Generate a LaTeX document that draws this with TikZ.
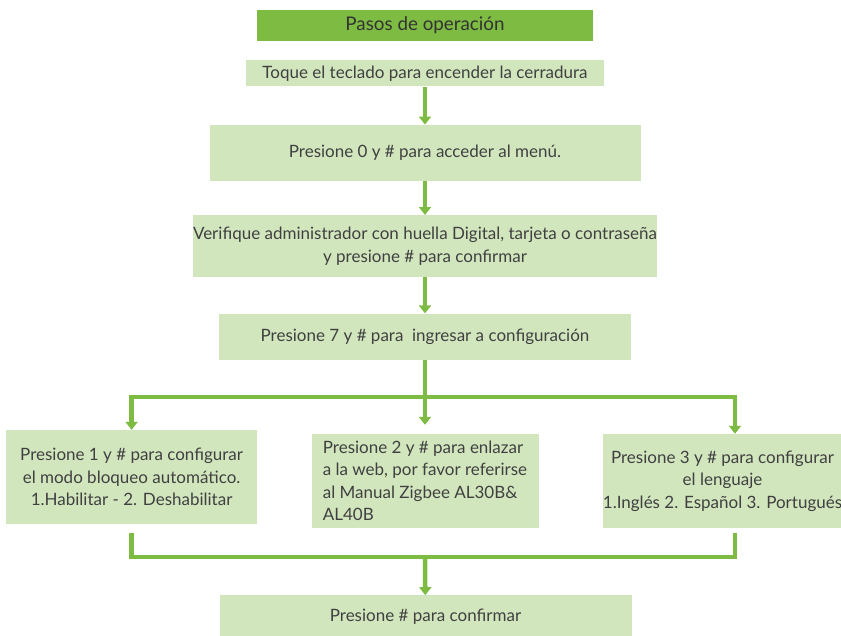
\documentclass[tikz,border=0pt]{standalone}
\usepackage{fontspec}
\setmainfont{Lato}
\usetikzlibrary{positioning,arrows.meta}
\definecolor{leafgreen}{HTML}{7DBB42}
\definecolor{palegreen}{HTML}{D2E6BE}
\definecolor{inkgray}{HTML}{404040}

\begin{document}
\begin{tikzpicture}[
        node distance=19pt,
        box/.style={rectangle, fill=palegreen, text=inkgray, align=center, inner sep=0pt, font=\fontsize{17}{22.5}\selectfont},
        flow/.style={draw=leafgreen, line width=4.5pt, -{Triangle[width=12pt,length=8pt]}},
        link/.style={draw=leafgreen, line width=4.5pt}
    ]
        \useasboundingbox (0,0) rectangle (841pt,-635pt);

        \node (title) [box, fill=leafgreen, text=black!80, minimum width=336pt, minimum height=31pt, font=\fontsize{18.8}{22}\selectfont] at (425pt,-25.5pt) {Pasos de operación};
        \node (touch) [box, below=19pt of title, minimum width=358pt, minimum height=26pt] {Toque el teclado para encender la cerradura};
        \node (menu) [box, below=38pt of touch, minimum width=431pt, minimum height=56pt] {Presione 0 y \# para acceder al menú.};
        \node (admin) [box, below=34pt of menu, minimum width=464pt, minimum height=62pt] {Verifique administrador con huella Digital, tarjeta o contraseña\\y presione \# para confirmar};
        \node (setup) [box, below=36pt of admin, minimum width=412pt, minimum height=46pt] {Presione 7 y \# para\ \ ingresar a configuración};

        \node (web) [box, below=74pt of setup, minimum width=227pt, minimum height=94pt, align=left] {Presione 2 y \# para enlazar\\a la web, por favor referirse\\al Manual Zigbee AL30B\&\\AL40B};
        \node (auto) [box, left=54pt of web, yshift=4pt, minimum width=251pt, minimum height=94pt] {Presione 1 y \# para configurar\\el modo bloqueo automático.\\1.Habilitar - 2. Deshabilitar};
        \node (lang) [box, right=64pt of web, minimum width=239pt, minimum height=94pt] {Presione 3 y \# para configurar\\el lenguaje\\1.Inglés 2. Español 3. Portugués};

        \node (confirm) [box, below=67pt of web, xshift=0.5pt, minimum width=412pt, minimum height=42pt] {Presione \# para confirmar};

        \coordinate (split) at ([yshift=-37pt]setup.south);
        \coordinate (join) at ([yshift=-29pt]web.south);

        \draw[flow] (touch) -- (menu);
        \draw[flow] (menu) -- (admin);
        \draw[flow] (admin) -- (setup);
        \draw[flow, shorten >=9pt] (setup) -- (web);
        \draw[flow] (split) -| (auto.north);
        \draw[flow] (split) -| ([xshift=12.5pt]lang.north);
        \draw[link] ([yshift=-9pt]auto.south) |- (join) -| ([xshift=12.5pt,yshift=-5pt]lang.south);
        \draw[flow] (join) -- (confirm);
    \end{tikzpicture}
\end{document}
